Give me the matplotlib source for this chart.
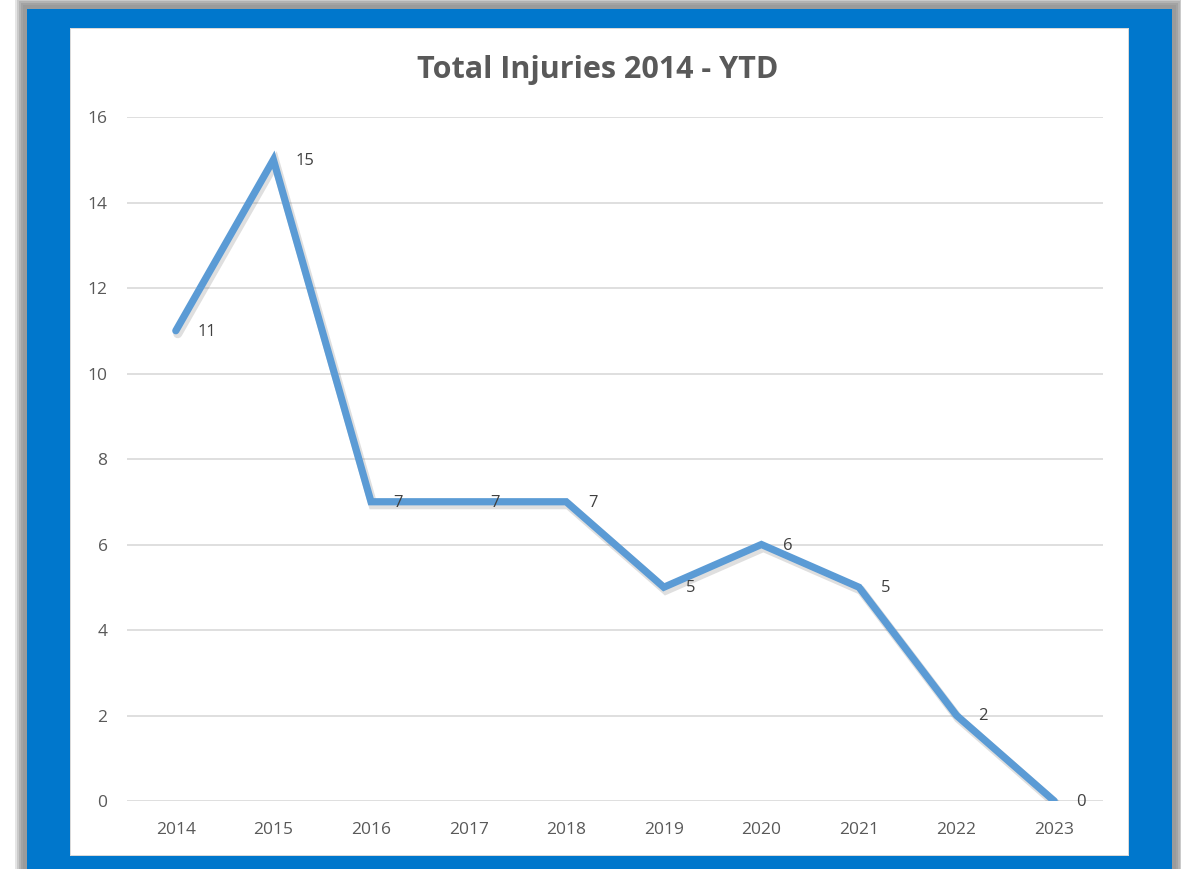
import matplotlib.pyplot as plt
from matplotlib.patches import Rectangle

years = ['2014', '2015', '2016', '2017', '2018', '2019', '2020', '2021', '2022', '2023']
injuries = [11, 15, 7, 7, 7, 5, 6, 5, 2, 0]
yticks = [0, 2, 4, 6, 8, 10, 12, 14, 16]

plt.rcParams['font.family'] = ['Open Sans', 'DejaVu Sans']

W, H = 1181, 869
fig = plt.figure(figsize=(W / 100, H / 100), dpi=100)
fig.patch.set_facecolor('white')


def px_rect(x0, y0, x1, y1, **kw):
    # rectangle given in pixel coords from top-left
    fig.patches.append(Rectangle((x0 / W, 1 - y1 / H), (x1 - x0) / W, (y1 - y0) / H,
                                 transform=fig.transFigure, figure=fig, zorder=-10, **kw))


# soft grey shadow round the blue frame
for i, a in enumerate([0.25, 0.35, 0.45, 0.6, 0.8]):
    d = 12 - 2 * i
    px_rect(27 - d, 9 - d, 1172 + d, H + 20, facecolor='#999999', alpha=a, lw=0)
px_rect(27, 9, 1172, H + 20, facecolor='#0077CC', lw=0)
# white chart panel
px_rect(70, 28, 1129, 856, facecolor='#d9d9d9', lw=0)
px_rect(71, 29, 1128, 855, facecolor='white', lw=0)

ax = fig.add_axes([127 / W, 1 - 801 / H, 976 / W, 684 / H])
ax.set_facecolor('none')
x = list(range(len(years)))

# soft shadow under the line
ax.plot([v + 0.02 for v in x], [v - 0.07 for v in injuries], color='#606060',
        lw=6.5, alpha=0.2, solid_joinstyle='miter', solid_capstyle='round', zorder=2)
ax.plot(x, injuries, color='#5B9BD5', lw=5.2, solid_joinstyle='miter',
        solid_capstyle='round', zorder=3)

for xi, v in zip(x, injuries):
    ax.annotate(str(v), (xi, v), xytext=(22, -1), textcoords='offset pixels',
                ha='left', va='center', fontsize=12, color='#404040', zorder=4)

ax.set_xlim(-0.5, len(years) - 0.5)
ax.set_ylim(0, 16)
ax.set_yticks(yticks)
ax.set_xticks(x)
ax.set_xticklabels(years)
ax.tick_params(axis='both', length=0, labelsize=12.5, labelcolor='#595959')
ax.tick_params(axis='y', pad=14)
ax.tick_params(axis='x', pad=15)
ax.grid(axis='y', color='#d9d9d9', lw=1.2)
ax.set_axisbelow(True)
for s in ax.spines.values():
    s.set_visible(False)

fig.text(598 / W, 1 - 70 / H, 'Total Injuries 2014 - YTD', ha='center', va='center',
         fontsize=22, fontweight='bold', color='#595959')

fig.savefig('out.png', dpi=100)
